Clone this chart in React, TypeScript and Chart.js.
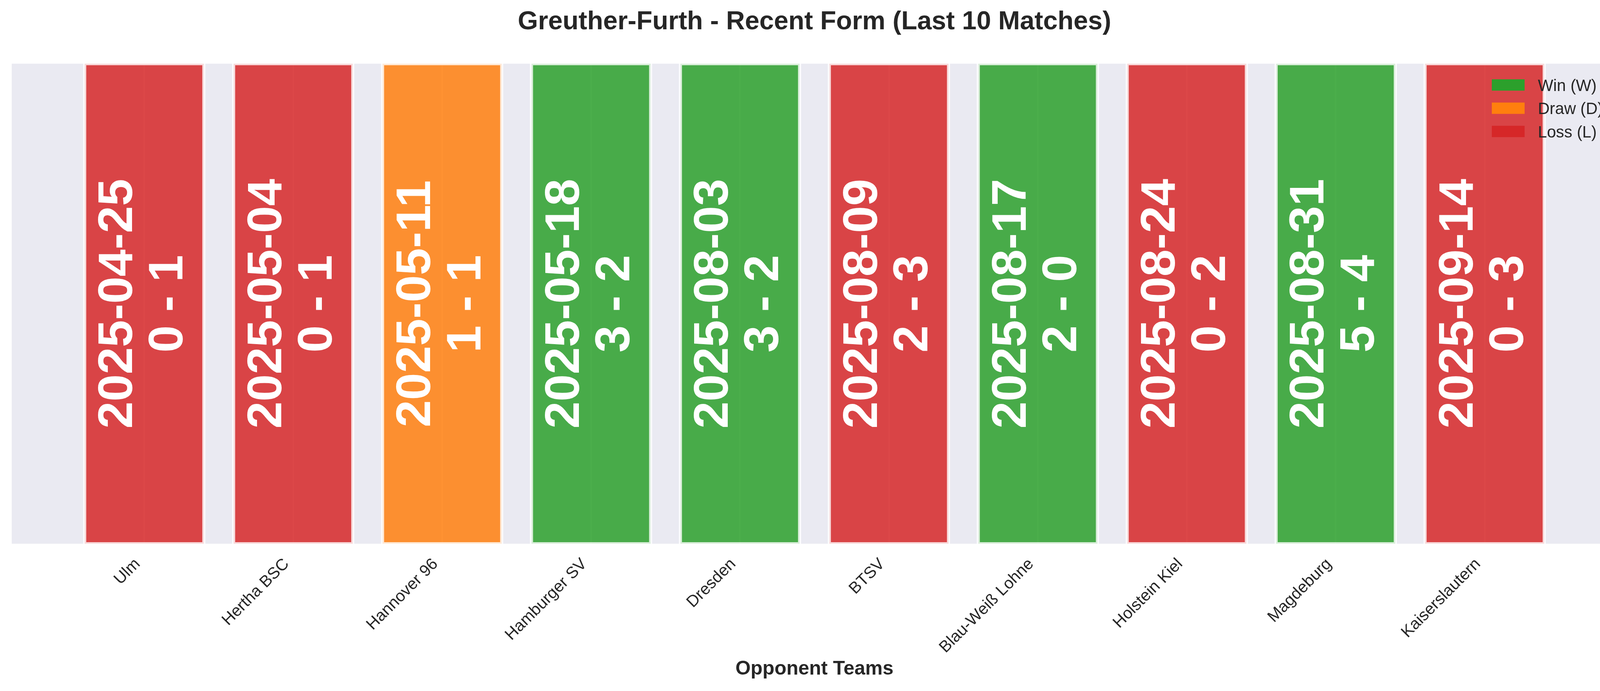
import { useEffect, useRef } from 'react';
import { Chart, registerables } from 'chart.js';

Chart.register(...registerables);

const teams = [
  'Ulm',
  'Hertha BSC',
  'Hannover 96',
  'Hamburger SV',
  'Dresden',
  'BTSV',
  'Blau-Weiß Lohne',
  'Holstein Kiel',
  'Magdeburg',
  'Kaiserslautern',
];
const matchDates = [
  '2025-04-25',
  '2025-05-04',
  '2025-05-11',
  '2025-05-18',
  '2025-08-03',
  '2025-08-09',
  '2025-08-17',
  '2025-08-24',
  '2025-08-31',
  '2025-09-14',
];
const goalsFor = [0, 0, 1, 3, 3, 2, 2, 0, 5, 0];
const goalsAgainst = [1, 1, 1, 2, 2, 3, 0, 2, 4, 3];
const results = ['L', 'L', 'D', 'W', 'W', 'L', 'W', 'L', 'W', 'L'];
const barHeights = [1, 1, 1, 1, 1, 1, 1, 1, 1, 1];

const resultColors: Record<string, string> = {
  W: '#2ca02c',
  D: '#ff7f0e',
  L: '#d62728',
};
const legendItems = [
  ['W', 'Win (W)'],
  ['D', 'Draw (D)'],
  ['L', 'Loss (L)'],
];

const FONT = "'Liberation Sans', Arial, Helvetica, sans-serif";
const TEXT_COLOR = '#262626';
const PLOT_BG = '#EAEAF2';

function withAlpha(hex: string, alpha: number) {
  const n = parseInt(hex.slice(1), 16);
  return `rgba(${(n >> 16) & 255}, ${(n >> 8) & 255}, ${n & 255}, ${alpha})`;
}

// plot background, bar outlines, rotated match labels and the legend
const formDecor = {
  id: 'formDecor',
  beforeDraw(chart: Chart) {
    const { ctx, chartArea: a } = chart;
    ctx.save();
    ctx.fillStyle = PLOT_BG;
    ctx.fillRect(a.left, a.top, a.right - a.left, a.bottom - a.top);
    ctx.restore();
  },
  afterDatasetsDraw(chart: Chart) {
    const { ctx, chartArea: a } = chart;
    const meta = chart.getDatasetMeta(0);

    ctx.save();
    ctx.beginPath();
    ctx.rect(a.left, a.top, a.right - a.left, a.bottom - a.top);
    ctx.clip();
    ctx.lineWidth = 8;
    ctx.strokeStyle = 'rgba(255, 255, 255, 0.8)';
    meta.data.forEach((bar: any) => {
      const { x, y, base, width } = bar.getProps(['x', 'y', 'base', 'width'], true);
      ctx.strokeRect(x - width / 2, Math.min(y, base), width, Math.abs(base - y));
    });
    ctx.restore();

    ctx.save();
    ctx.fillStyle = '#ffffff';
    ctx.font = `bold 125px ${FONT}`;
    ctx.textAlign = 'center';
    ctx.textBaseline = 'alphabetic';
    meta.data.forEach((bar: any, i: number) => {
      const { x, y, base } = bar.getProps(['x', 'y', 'base'], true);
      ctx.save();
      ctx.translate(x, (y + base) / 2);
      ctx.rotate(-Math.PI / 2);
      ctx.fillText(matchDates[i], 0, -31);
      ctx.fillText(`${goalsFor[i]} - ${goalsAgainst[i]}`, 0, 98);
      ctx.restore();
    });
    ctx.restore();
  },
  afterDraw(chart: Chart) {
    const { ctx, chartArea: a } = chart;
    ctx.save();
    ctx.font = `41.7px ${FONT}`;
    ctx.textAlign = 'left';
    ctx.textBaseline = 'alphabetic';
    legendItems.forEach(([key, label], j) => {
      const cy = a.top + 54.5 + j * 59.5;
      ctx.fillStyle = resultColors[key];
      ctx.fillRect(a.right - 321, cy - 14.5, 84, 29);
      ctx.fillStyle = TEXT_COLOR;
      ctx.fillText(label, a.right - 203, cy + 15);
    });
    ctx.restore();
  },
};

export default function App() {
  const canvasRef = useRef<HTMLCanvasElement>(null);
  const chartRef = useRef<Chart | null>(null);

  useEffect(() => {
    document.body.style.margin = '0';
    if (!canvasRef.current) return;
    if (chartRef.current) chartRef.current.destroy();

    chartRef.current = new Chart(canvasRef.current, {
      type: 'bar',
      data: {
        datasets: [
          {
            label: 'Result',
            data: barHeights.map((h, i) => ({ x: i, y: h })),
            backgroundColor: results.map((r) => withAlpha(resultColors[r], 0.85)),
            borderWidth: 0,
            barPercentage: 0.8,
            categoryPercentage: 1,
          },
        ],
      },
      options: {
        animation: false,
        responsive: false,
        devicePixelRatio: 1,
        layout: {
          padding: { left: 30, right: 30, top: 0, bottom: 0 },
          autoPadding: false,
        },
        plugins: {
          legend: { display: false },
          tooltip: { enabled: false },
          title: {
            display: true,
            text: 'Greuther-Furth - Recent Form (Last 10 Matches)',
            color: TEXT_COLOR,
            font: { family: FONT, size: 66.7, weight: 'bold', lineHeight: 1.2 },
            padding: { top: 17, bottom: 66 },
          },
        },
        scales: {
          x: {
            type: 'linear',
            offset: false,
            min: -0.89,
            max: 9.89,
            afterBuildTicks: (scale: any) => {
              scale.ticks = teams.map((_, i) => ({ value: i }));
            },
            afterFit: (scale: any) => {
              scale.height = 377;
            },
            grid: { color: '#ffffff', lineWidth: 4, drawTicks: false, offset: false },
            border: { display: false },
            ticks: {
              autoSkip: false,
              minRotation: 45,
              maxRotation: 45,
              padding: 28,
              labelOffset: -17,
              color: TEXT_COLOR,
              font: { family: FONT, size: 41.7 },
              callback: (value: any) => teams[Math.round(Number(value))] ?? '',
            },
            title: {
              display: true,
              text: 'Opponent Teams',
              color: TEXT_COLOR,
              font: { family: FONT, size: 50, weight: 'bold', lineHeight: 1.2 },
              padding: { top: 0, bottom: 26 },
            },
          },
          y: { display: false, min: 0, max: 1 },
        },
      },
      plugins: [formDecor],
    });

    return () => {
      if (chartRef.current) {
        chartRef.current.destroy();
        chartRef.current = null;
      }
    };
  }, []);

  return (
    <div style={{ width: 4170, height: 1769, background: '#ffffff' }}>
      <canvas ref={canvasRef} width={4170} height={1769} style={{ width: 4170, height: 1769 }} />
    </div>
  );
}
